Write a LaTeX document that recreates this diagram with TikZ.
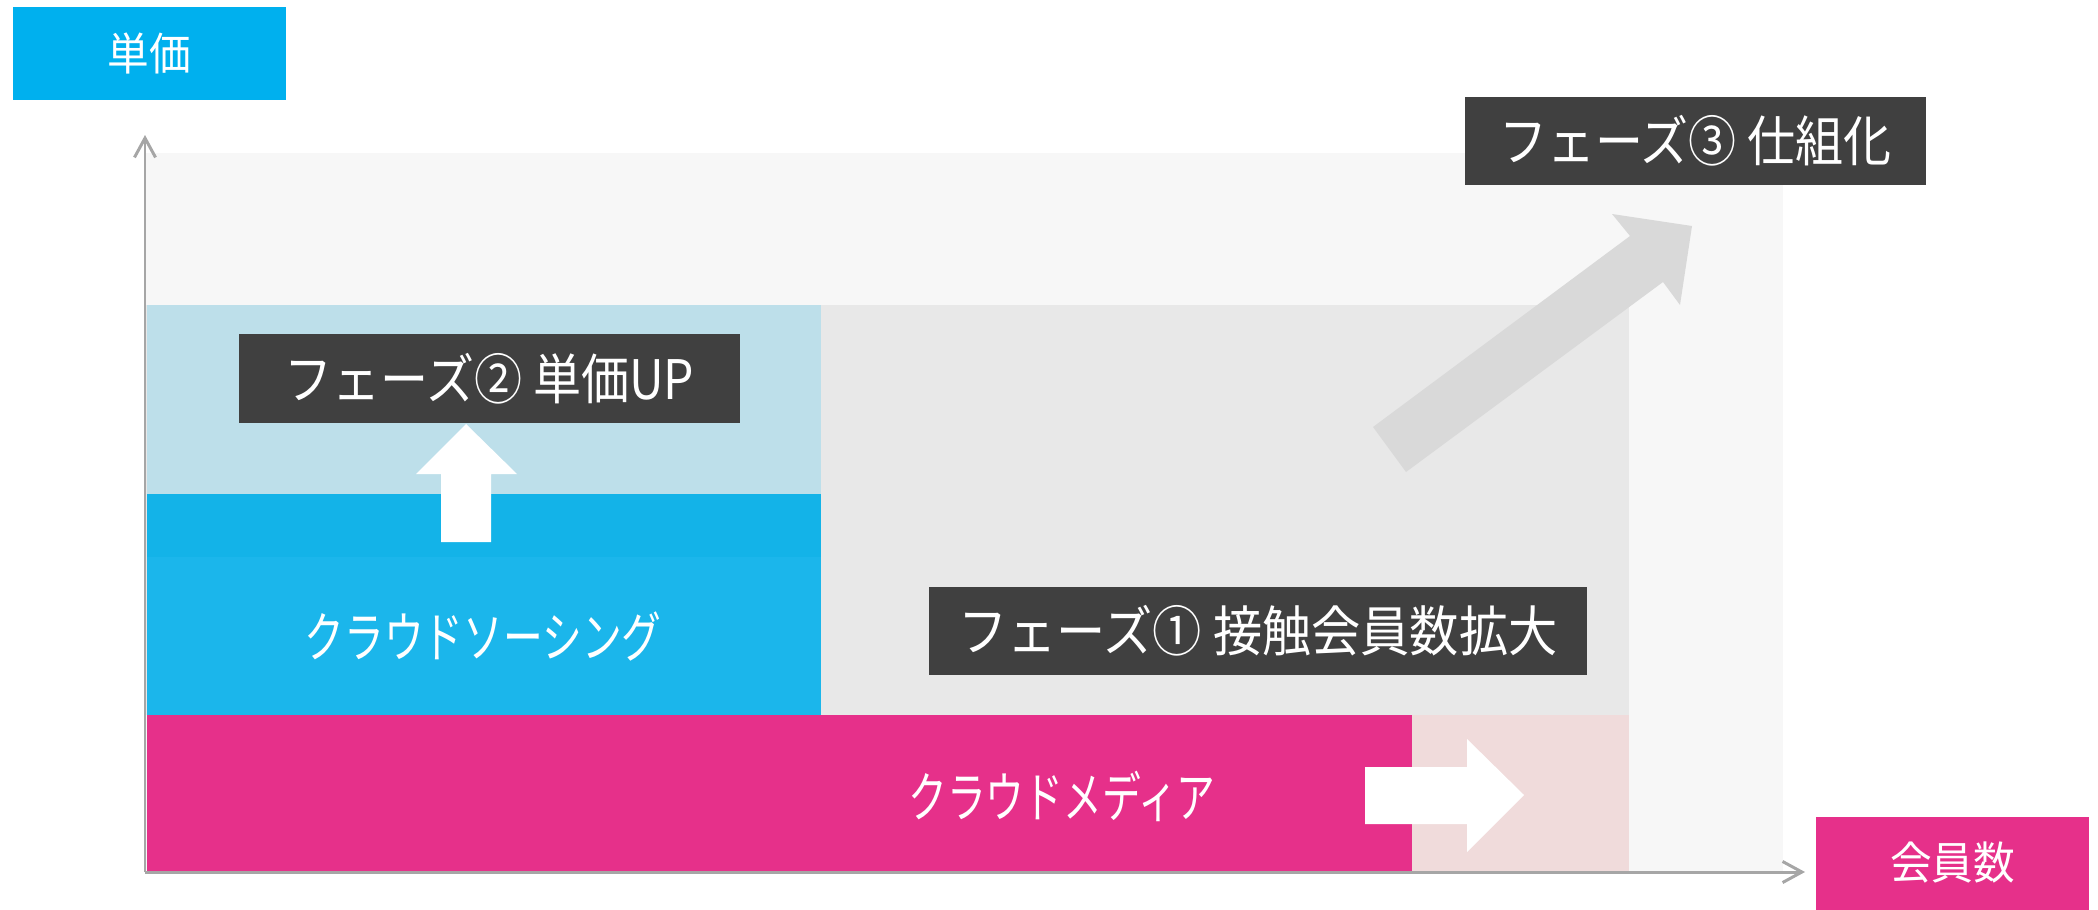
\documentclass[tikz,border=0pt]{standalone}
\usepackage{fontspec}
\usepackage{graphicx}
\usetikzlibrary{arrows.meta}
\newfontfamily\jp{Noto Sans CJK JP}
\definecolor{cyanlab}{HTML}{00B0EE}
\definecolor{pinkmain}{HTML}{E6308A}
\definecolor{darkbox}{HTML}{404040}
\definecolor{bgA}{HTML}{F7F7F7}
\definecolor{bgB}{HTML}{E8E8E8}
\definecolor{lightblue}{HTML}{BDDFEA}
\definecolor{blueA}{HTML}{13B3E8}
\definecolor{blueB}{HTML}{1BB6EB}
\definecolor{lightpink}{HTML}{F0DBDB}
\definecolor{arrowgrey}{HTML}{D9D9D9}
\definecolor{axisgrey}{HTML}{A6A6A6}
\tikzset{
  phasebox/.style={fill=darkbox, text=white, inner sep=0pt, minimum height=1.77cm,
    font=\jp\fontsize{31}{32}\selectfont},
  axislabel/.style={text=white, inner sep=0pt, minimum width=5.46cm, minimum height=1.86cm,
    font=\jp\fontsize{25.5}{26}\selectfont},
  bandlabel/.style={text=white, inner sep=0pt, font=\jp\fontsize{31}{32}\selectfont},
  axisline/.style={draw=axisgrey, line width=1.7pt, -{Straight Barb[length=11pt,width=12pt,line width=1.7pt]}},
}
\begin{document}
\begin{tikzpicture}[x=0.02cm,y=-0.02cm]
\useasboundingbox (0,0) rectangle (2098,909);
% background regions
\fill[bgA] (145,153) rectangle (1783,872);
\fill[bgB] (145,305) rectangle (1629,715);
\fill[lightblue] (147,305) rectangle (821,494);
\fill[blueA] (147,494) rectangle (821,557);
\fill[blueB] (147,557) rectangle (821,715);
\fill[lightpink] (1412,715) rectangle (1629,871);
\fill[pinkmain] (147,715) rectangle (1412,871);
% diagonal block arrow
\fill[arrowgrey] (1373,427) -- (1630,236) -- (1612,214) -- (1692,226) -- (1680,305) -- (1663,282) -- (1406,472) -- cycle;
% up arrow
\fill[white] (441,542) -- (441,474) -- (416,474) -- (466,424) -- (517,474) -- (491,474) -- (491,542) -- cycle;
% right arrow
\fill[white] (1365,767) -- (1467,767) -- (1467,739) -- (1524,795) -- (1467,852) -- (1467,824) -- (1365,824) -- cycle;
% axes
\coordinate (o) at (145,872);
\coordinate (ytop) at (145,135);
\coordinate (xend) at (1805,872);
\draw[axisline] (o) -- (ytop);
\draw[axisline] (o) -- (xend);
% labels
\node[axislabel, fill=cyanlab] (ylab) at (149.5,53.5) {\scalebox{0.93}[1]{単価}};
\node[axislabel, fill=pinkmain] (xlab) at (1952.5,863) {\scalebox{0.93}[1]{会員数}};
\node[phasebox, minimum width=10.02cm] (p2) at (489.5,378.5) {\scalebox{0.882}[1]{フェーズ② 単価UP}};
\node[phasebox, minimum width=13.16cm] (p1) at (1258,631) {\scalebox{0.904}[1]{フェーズ① 接触会員数拡大}};
\node[phasebox, minimum width=9.22cm] (p3) at (1695.5,141) {\scalebox{0.881}[1]{フェーズ③ 仕組化}};
\node[bandlabel] (cs) at (483,636) {\scalebox{0.73}[1]{クラウドソーシング}};
\node[bandlabel] (cm) at (1062,796) {\scalebox{0.712}[1]{クラウドメディア}};
\end{tikzpicture}
\end{document}
